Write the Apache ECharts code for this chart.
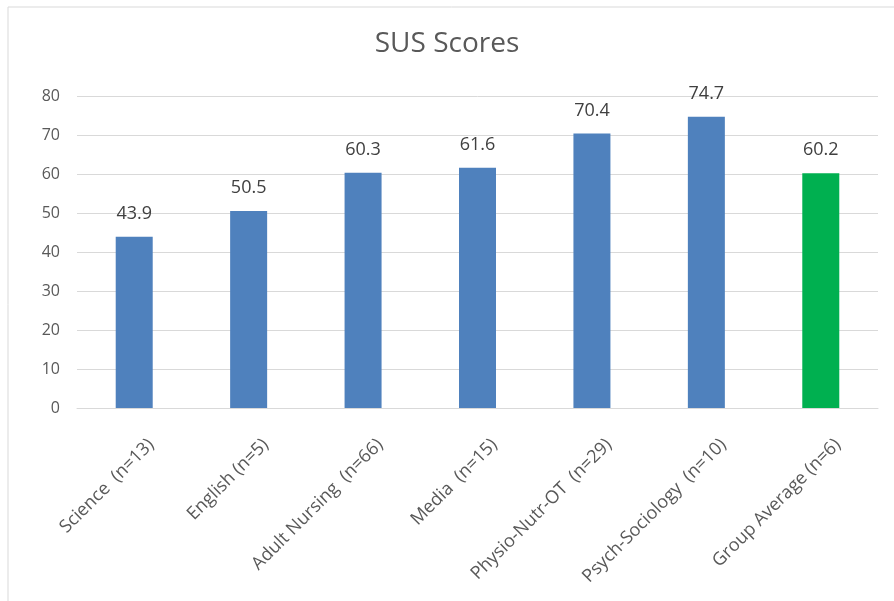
<!DOCTYPE html>
<html>
<head>
<meta charset="utf-8">
<script src="https://cdn.jsdelivr.net/npm/echarts@6/dist/echarts.min.js"></script>
<style>
  html, body { margin: 0; padding: 0; background: #fff; }
  #c1 { width: 894px; height: 601px; }
</style>
</head>
<body>
<div id="c1"></div>
<script>
var categories = ['Science  (n=13)', 'English (n=5)', 'Adult Nursing  (n=66)', 'Media  (n=15)',
                  'Physio-Nutr-OT  (n=29)', 'Psych-Sociology  (n=10)', 'Group Average (n=6)'];
var scores = [43.9, 50.5, 60.3, 61.6, 70.4, 74.7, 60.2];
var barColors = ['#4F81BD', '#4F81BD', '#4F81BD', '#4F81BD', '#4F81BD', '#4F81BD', '#00B050'];

var myChart = echarts.init(document.getElementById('c1'));
var option = {
    backgroundColor: '#fff',
    animation: false,
    title: {
        text: 'SUS Scores',
        left: 'center',
        top: 25,
        textStyle: { fontFamily: 'Open Sans', fontSize: 28, fontWeight: 'normal', color: '#595959' }
    },
    graphic: [{
        type: 'rect',
        shape: { x: 8, y: 7, width: 900, height: 610 },
        style: { fill: 'none', stroke: '#d9d9d9', lineWidth: 1 }
    }],
    grid: { left: 77, right: 16, top: 96, bottom: 193, outerBoundsMode: 'none' },
    xAxis: {
        type: 'category',
        data: categories,
        axisLine: { lineStyle: { color: '#d9d9d9' } },
        axisTick: { show: false },
        axisLabel: {
            rotate: 45, margin: 17, interval: 0, verticalAlign: 'top', lineHeight: 48,
            fontFamily: 'Open Sans', fontSize: 18, color: '#595959'
        }
    },
    yAxis: {
        type: 'value',
        min: 0, max: 80, interval: 10,
        axisLine: { show: false },
        axisTick: { show: false },
        splitLine: { lineStyle: { color: '#d9d9d9' } },
        axisLabel: { margin: 17, fontFamily: 'Open Sans', fontSize: 16, color: '#595959' }
    },
    series: [{
        type: 'bar',
        barWidth: 37,
        data: scores.map(function (v, i) {
            return { value: v, itemStyle: { color: barColors[i] } };
        }),
        label: {
            show: true, position: 'top', distance: 14,
            fontFamily: 'Open Sans', fontSize: 18, color: '#404040'
        }
    }]
};
myChart.setOption(option);
</script>
</body>
</html>
